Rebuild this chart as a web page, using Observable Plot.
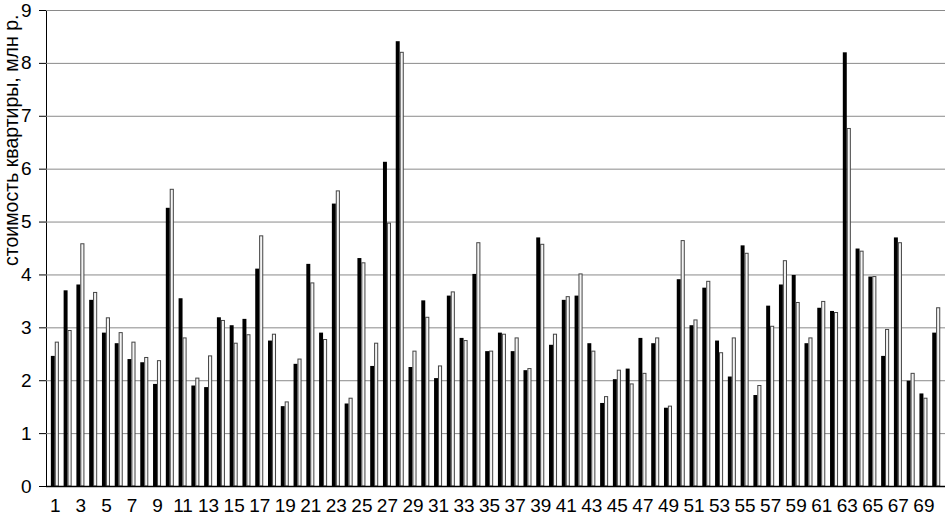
<!DOCTYPE html>
<html>
<head>
<meta charset="utf-8">
<script src="https://cdn.jsdelivr.net/npm/d3@7"></script>
<script src="https://cdn.jsdelivr.net/npm/@observablehq/plot@0.6"></script>
<style>
  html, body { margin: 0; padding: 0; background: #fff; }
  #chart { width: 945px; height: 515px; overflow: hidden; }
</style>
</head>
<body>
<div id="chart"></div>
<script>
const categories = [1,2,3,4,5,6,7,8,9,10,11,12,13,14,15,16,17,18,19,20,21,22,23,24,25,26,27,28,29,30,31,32,33,34,35,36,37,38,39,40,41,42,43,44,45,46,47,48,49,50,51,52,53,54,55,56,57,58,59,60,61,62,63,64,65,66,67,68,69,70];
const seriesBlack = [2.46,3.70,3.81,3.52,2.90,2.70,2.40,2.34,1.93,5.26,
  3.55,1.90,1.87,3.19,3.04,3.16,4.11,2.75,1.51,2.31,
  4.20,2.90,5.34,1.56,4.31,2.27,6.13,8.41,2.25,3.51,
  2.04,3.60,2.80,4.01,2.55,2.90,2.55,2.19,4.70,2.67,
  3.52,3.60,2.70,1.57,2.02,2.22,2.80,2.70,1.48,3.91,
  3.04,3.75,2.75,2.07,4.55,1.72,3.41,3.81,3.99,2.70,
  3.37,3.31,8.20,4.49,3.96,2.46,4.70,1.99,1.75,2.90];
const seriesWhite = [2.72,2.94,4.58,3.66,3.18,2.90,2.72,2.43,2.37,5.61,
  2.80,2.04,2.46,3.13,2.70,2.86,4.73,2.87,1.59,2.40,
  3.84,2.77,5.58,1.66,4.22,2.70,4.97,8.20,2.55,3.19,
  2.27,3.67,2.75,4.60,2.55,2.87,2.80,2.22,4.57,2.87,
  3.58,4.01,2.55,1.69,2.19,1.93,2.13,2.80,1.51,4.64,
  3.14,3.87,2.52,2.80,4.40,1.90,3.02,4.26,3.47,2.80,
  3.49,3.28,6.76,4.44,3.96,2.96,4.60,2.13,1.66,3.37];
const xTickLabels = [1,3,5,7,9,11,13,15,17,19,21,23,25,27,29,31,33,35,37,39,41,43,45,47,49,51,53,55,57,59,61,63,65,67,69];
const yTicks = [0,1,2,3,4,5,6,7,8,9];
const yLabel = "стоимость квартиры, млн р.";

const rows = categories.map((c, i) => ({cat: c, black: seriesBlack[i], white: seriesWhite[i]}));

const chart = Plot.plot({
  width: 945,
  height: 515,
  marginLeft: 46,
  marginRight: 0,
  marginTop: 10,
  marginBottom: 29,
  style: {fontFamily: "'Liberation Sans', Arial, sans-serif", fontSize: "19px", color: "#000", background: "#fff"},
  x: {
    type: "band",
    domain: categories,
    padding: 0.38,
    ticks: xTickLabels,
    tickSize: 0,
    tickPadding: 12,
    label: null,
    line: true
  },
  y: {
    domain: [0, 9],
    ticks: yTicks,
    tickSize: 7,
    tickPadding: 8,
    tickFormat: d => String(d),
    label: null,
    line: true
  },
  marks: [
    Plot.ruleY(yTicks.filter(d => d > 0), {stroke: "#8a8a8a", strokeWidth: 1}),
    Plot.barY(rows, {x: "cat", y: "black", fill: "#000", insetRight: 3.96}),
    Plot.barY(rows, {x: "cat", y: "white", fill: "#f4f4f4", stroke: "#444", strokeWidth: 1, insetLeft: 4.4, insetRight: 0.4}),
    Plot.ruleY([0], {stroke: "#000", strokeWidth: 1.5})
  ]
});

const svg = d3.select(chart);
svg.append("text")
  .attr("transform", "translate(17.5,266) rotate(-90)")
  .attr("text-anchor", "start")
  .attr("font-family", "'Liberation Sans', Arial, sans-serif")
  .attr("font-size", "19.5px")
  .attr("fill", "#000")
  .text(yLabel);

document.getElementById("chart").appendChild(chart);
</script>
</body>
</html>
